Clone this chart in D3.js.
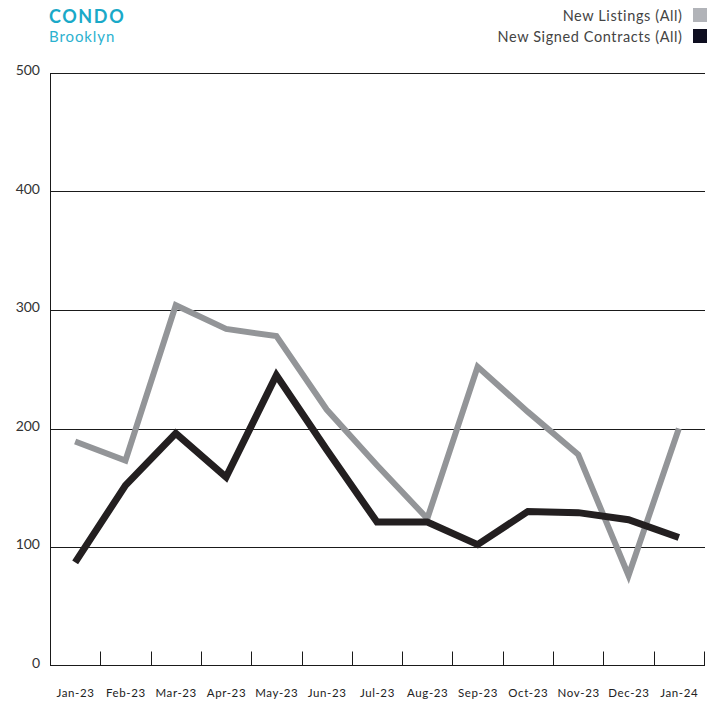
<!DOCTYPE html>
<html><head><meta charset="utf-8">
<script src="https://cdn.jsdelivr.net/npm/d3@7"></script>
<style>body{margin:0;background:#fff}svg{display:block;font-family:Lato,"Noto Sans",sans-serif}</style>
</head><body><svg id="c" width="715" height="704"></svg>
<script>
const months = ["Jan-23","Feb-23","Mar-23","Apr-23","May-23","Jun-23","Jul-23","Aug-23","Sep-23","Oct-23","Nov-23","Dec-23","Jan-24"];
const newListings = [189,173,304,284,278,216,169,124,252,214,178,76,200];
const newContracts = [87,152,196,159,245,182,121,121,102,130,129,123,108];
const yTicks = [0,100,200,300,400,500];
const seriesNames = ["New Listings (All)","New Signed Contracts (All)"];

const svg = d3.select("#c");
const L=50,R=704,T=73,B=665.5;
const x = d3.scaleBand().domain(months).range([L,R]);
const y = d3.scaleLinear().domain([0,500]).range([B,T]);

// gridlines
svg.append("g").selectAll("line").data(yTicks.filter(d=>d>0)).join("line")
  .attr("x1",L).attr("x2",R+1).attr("y1",d=>Math.round(y(d))+0.5).attr("y2",d=>Math.round(y(d))+0.5)
  .attr("stroke","#1a1a1a").attr("stroke-width",1);
// y labels
svg.append("g").selectAll("text").data(yTicks).join("text")
  .attr("x",40).attr("y",d=>y(d)+2).attr("text-anchor","end")
  .attr("font-size",14).attr("fill","#333").text(d=>d);
// left axis
svg.append("line").attr("x1",L+0.5).attr("x2",L+0.5).attr("y1",T).attr("y2",B).attr("stroke","#1a1a1a");
// bottom axis
const xa = svg.append("g").attr("transform",`translate(0,${Math.round(B)-0.5})`);
xa.append("line").attr("x1",L).attr("x2",R+1).attr("stroke","#1a1a1a");
xa.selectAll("line.t").data(months).join("line").attr("class","t")
  .attr("x1",d=>Math.round(x(d)+x.bandwidth())+0.5).attr("x2",d=>Math.round(x(d)+x.bandwidth())+0.5)
  .attr("y1",0).attr("y2",-14).attr("stroke","#1a1a1a");
svg.append("g").selectAll("text").data(months).join("text")
  .attr("x",d=>x(d)+x.bandwidth()/2+0.4).attr("y",697).attr("text-anchor","middle")
  .attr("font-size",11.5).attr("letter-spacing",0.6).attr("fill","#222").text(d=>d);

const line = d3.line().x((d,i)=>x(months[i])+x.bandwidth()/2).y(d=>y(d)).curve(d3.curveLinear);
svg.append("path").datum(newListings).attr("d",line).attr("fill","none")
  .attr("stroke","#939598").attr("stroke-width",6).attr("stroke-linejoin","miter");
svg.append("path").datum(newContracts).attr("d",line).attr("fill","none")
  .attr("stroke","#231f20").attr("stroke-width",7).attr("stroke-linejoin","miter");

// title
svg.append("text").attr("x",49).attr("y",23).attr("font-size",18).attr("font-weight",700)
  .attr("letter-spacing",1.6).attr("fill","#1aa9c8").text("CONDO");
svg.append("text").attr("x",49).attr("y",42).attr("font-size",15)
  .attr("letter-spacing",0.9).attr("fill","#2bb1cf").text("Brooklyn");

// legend
const swatch = ["#b1b3b8","#0e0e20"];
const lg = svg.append("g").selectAll("g").data(seriesNames).join("g")
  .attr("transform",(d,i)=>`translate(0,${8+i*21})`);
lg.append("rect").attr("x",693).attr("y",0).attr("width",14).attr("height",14).attr("fill",(d,i)=>swatch[i]);
lg.append("text").attr("x",682.6).attr("y",12.5).attr("text-anchor","end").attr("font-size",14.5)
  .attr("letter-spacing",0.6).attr("fill","#444").text(d=>d);
</script></body></html>
